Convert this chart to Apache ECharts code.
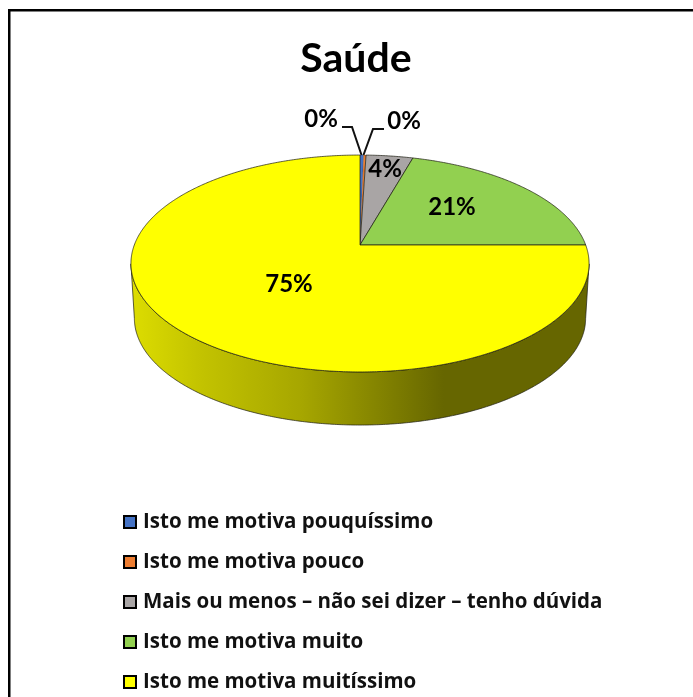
<!DOCTYPE html>
<html>
<head>
<meta charset="utf-8">
<style>
  html, body { margin: 0; padding: 0; background: #fff; }
  #chart { width: 693px; height: 697px; }
</style>
<script src="https://cdn.jsdelivr.net/npm/echarts@6/dist/echarts.min.js"></script>
</head>
<body>
<div id="chart"></div>
<script>
  const categories = [
    'Isto me motiva pouquíssimo',
    'Isto me motiva pouco',
    'Mais ou menos – não sei dizer – tenho dúvida',
    'Isto me motiva muito',
    'Isto me motiva muitíssimo'
  ];
  const values = [0.3, 0.2, 3.9, 20.6, 75];
  const percentLabels = ['0%', '0%', '4%', '21%', '75%'];
  const colors = ['#4472c4', '#ed7d31', '#a9a5a5', '#92d050', '#ffff00'];

  // layout of the tilted disc, px
  const apexX = 360, apexY = 245, radiusX = 225.7, radiusY = 105.3, tilt = 0.1705;
  const depthY = 55, depthScale = 0.985;
  const wallFrom = 100, wallTo = 260;
  const labelOffsets = [[-39, -126], [44, -124], [25, -76], [92, -38], [-71, 39]];
  const leaders = [
    [[342, 127], [352, 127], [361.5, 155]],
    [[384, 129], [373, 129], [363.5, 155]]
  ];

  const total = values.reduce((a, b) => a + b, 0);
  const edge = 'rgba(30,30,20,0.9)';

  function rimPoint(deg, bottom) {
    const a = deg * Math.PI / 180;
    const u = Math.sin(a), v = Math.cos(a), w = 1 + tilt * v;
    const s = bottom ? depthScale : 1;
    return [
      apexX + s * radiusX * u / w,
      apexY + (bottom ? depthY : 0) - s * radiusY * v / w
    ];
  }

  function arc(from, to, bottom) {
    const pts = [];
    const n = Math.max(2, Math.ceil(Math.abs(to - from) * 2));
    for (let i = 0; i <= n; i++) pts.push(rimPoint(from + (to - from) * i / n, bottom));
    return pts;
  }

  const wallFill = {
    type: 'linear', x: 133, y: 0, x2: 590, y2: 0, global: true,
    colorStops: [
      { offset: 0, color: '#dcdc00' },
      { offset: 0.14, color: '#c4c400' },
      { offset: 0.37, color: '#a6a600' },
      { offset: 0.68, color: '#666600' },
      { offset: 1, color: '#666600' }
    ]
  };

  function renderSlice(params, api) {
    const i = params.seriesIndex;
    const value = api.value(0);
    let before = 0;
    for (let k = 0; k < i; k++) before += values[k];
    const start = before / total * 360;
    const end = (before + value) / total * 360;
    const children = [];

    const wallStart = Math.max(start, wallFrom), wallEnd = Math.min(end, wallTo);
    if (wallEnd > wallStart) {
      children.push({
        type: 'polygon',
        shape: { points: arc(wallStart, wallEnd, false).concat(arc(wallEnd, wallStart, true)) },
        style: { fill: wallFill, stroke: edge, lineWidth: 0.8 }
      });
    }

    children.push({
      type: 'polygon',
      shape: { points: [[apexX, apexY]].concat(arc(start, end, false)) },
      // the thin slices would vanish under a full outline
      style: { fill: colors[i], stroke: edge, lineWidth: value < 1 ? 0.2 : 0.8 }
    });

    if (leaders[i]) {
      children.push({
        type: 'polyline',
        shape: { points: leaders[i] },
        style: { fill: 'none', stroke: '#111', lineWidth: 2 },
        z2: 5
      });
    }

    children.push({
      type: 'text',
      x: apexX + labelOffsets[i][0],
      y: apexY + labelOffsets[i][1],
      style: {
        text: percentLabels[i],
        fill: '#000',
        font: 'bold 24px Lato, sans-serif',
        align: 'center',
        verticalAlign: 'middle'
      },
      z2: 10
    });

    return { type: 'group', children };
  }

  const chart = echarts.init(document.getElementById('chart'), null, { renderer: 'canvas' });
  chart.setOption({
    animation: false,
    backgroundColor: '#fff',
    title: {
      text: 'Saúde',
      left: 351,
      top: 33,
      textAlign: 'center',
      textStyle: { fontFamily: 'Lato, sans-serif', fontWeight: 'bold', fontSize: 41, color: '#000' }
    },
    legend: {
      orient: 'vertical',
      left: 118,
      top: 506,
      height: 200,
      selectedMode: false,
      icon: 'rect',
      itemWidth: 12,
      itemHeight: 12,
      itemGap: 18,
      textStyle: {
        fontFamily: '"Open Sans", sans-serif',
        fontWeight: 'bold',
        fontSize: 20.5,
        color: '#111',
        lineHeight: 22,
        padding: [0, 0, 0, 2]
      },
      data: categories.map((name, i) => ({
        name,
        itemStyle: { color: colors[i], borderColor: '#000', borderWidth: 2 }
      }))
    },
    graphic: [
      { type: 'rect', shape: { x: 8, y: 9, width: 685, height: 2.5 }, style: { fill: '#000' } },
      { type: 'rect', shape: { x: 8, y: 9, width: 2.5, height: 688 }, style: { fill: '#000' } }
    ],
    series: categories.map((name, i) => ({
      type: 'custom',
      name,
      coordinateSystem: 'none',
      renderItem: renderSlice,
      clip: false,
      silent: true,
      itemStyle: { color: colors[i] },
      data: [[values[i]]]
    }))
  });
  window.addEventListener('resize', () => chart.resize());
</script>
</body>
</html>
